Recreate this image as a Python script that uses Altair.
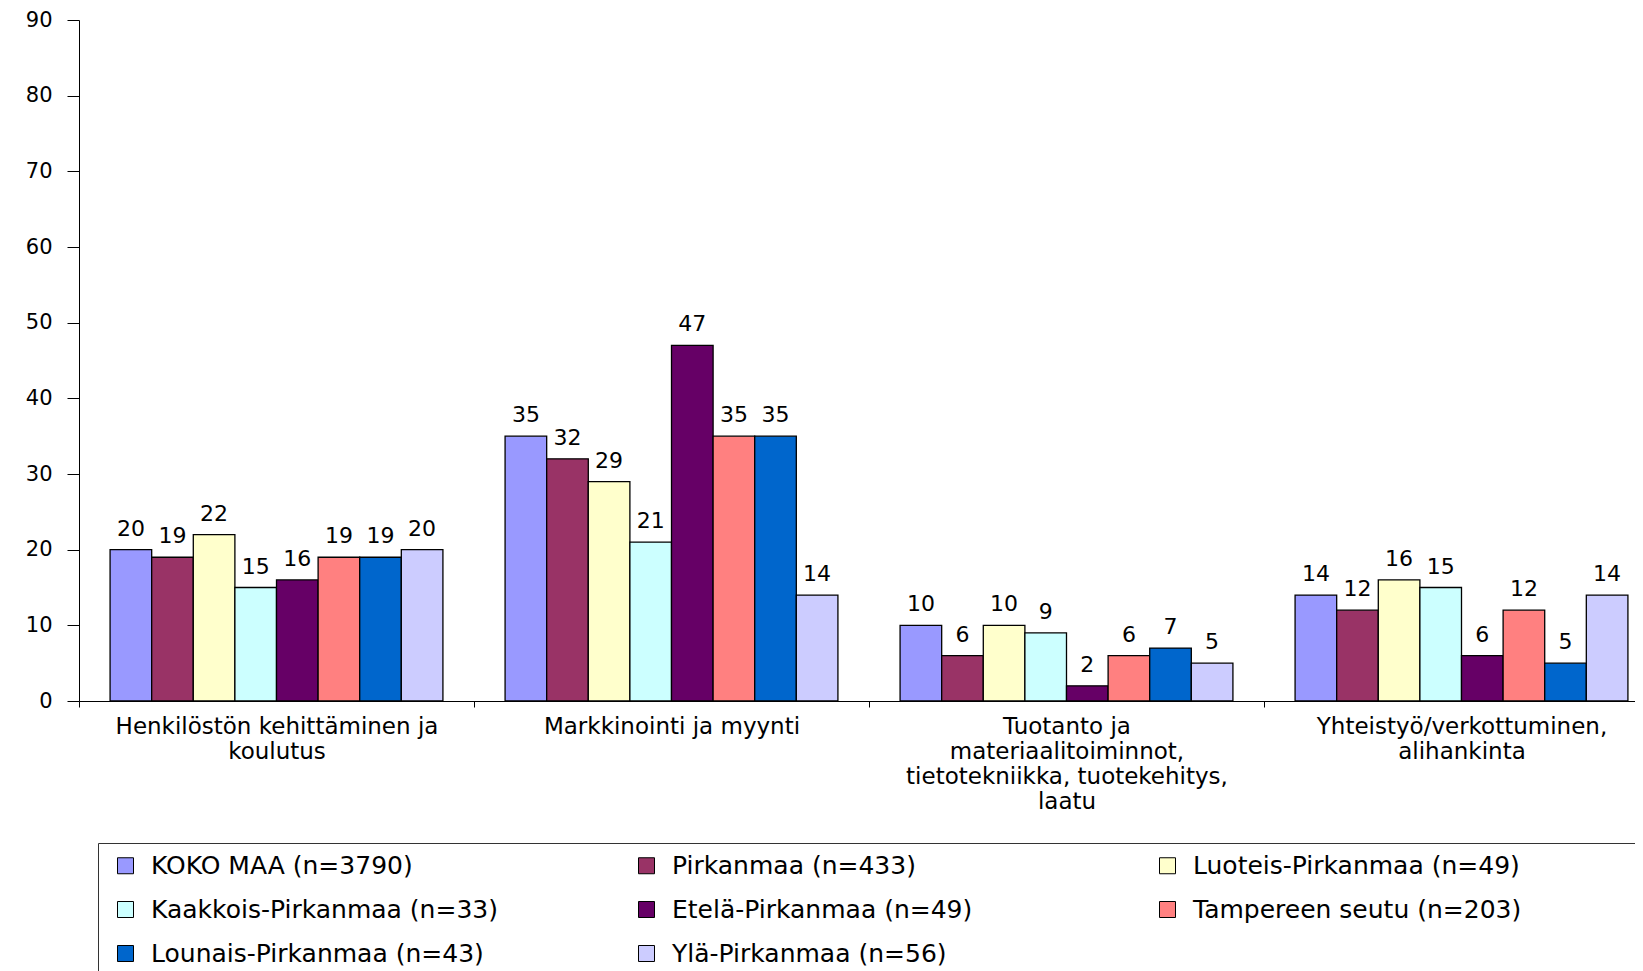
import altair as alt
import pandas as pd

categories = [
    "Henkilöstön kehittäminen ja\nkoulutus",
    "Markkinointi ja myynti",
    "Tuotanto ja\nmateriaalitoiminnot,\ntietotekniikka, tuotekehitys,\nlaatu",
    "Yhteistyö/verkottuminen,\nalihankinta",
]
series = [
    "KOKO MAA (n=3790)",
    "Pirkanmaa (n=433)",
    "Luoteis-Pirkanmaa (n=49)",
    "Kaakkois-Pirkanmaa (n=33)",
    "Etelä-Pirkanmaa (n=49)",
    "Tampereen seutu (n=203)",
    "Lounais-Pirkanmaa (n=43)",
    "Ylä-Pirkanmaa (n=56)",
]
colors = ["#9999FF", "#993366", "#FFFFCC", "#CCFFFF", "#660066", "#FF8080", "#0066CC", "#CCCCFF"]

henkilosto = [20, 19, 22, 15, 16, 19, 19, 20]
markkinointi = [35, 32, 29, 21, 47, 35, 35, 14]
tuotanto = [10, 6, 10, 9, 2, 6, 7, 5]
yhteistyo = [14, 12, 16, 15, 6, 12, 5, 14]
y_ticks = [0, 10, 20, 30, 40, 50, 60, 70, 80, 90]

rows = []
for cat, vals in zip(categories, [henkilosto, markkinointi, tuotanto, yhteistyo]):
    for s, v in zip(series, vals):
        rows.append({"cat": cat, "series": s, "value": v})
df = pd.DataFrame(rows)

FONT = "DejaVu Sans"

base = alt.Chart(df).encode(
    x=alt.X(
        "cat:N",
        sort=categories,
        scale=alt.Scale(range=[0, 1580], paddingInner=0, paddingOuter=0),
        axis=alt.Axis(
            title=None,
            labelAngle=0,
            labelExpr="split(datum.label, '\\n')",
            labelFont=FONT,
            labelFontSize=23,
            labelLineHeight=25,
            labelPadding=8,
            labelLimit=700,
            labelColor="black",
            tickBand="extent",
            tickSize=6,
            tickColor="black",
            domainColor="black",
        ),
    ),
    xOffset=alt.XOffset(
        "series:N",
        sort=series,
        scale=alt.Scale(paddingInner=0, paddingOuter=0.747),
    ),
    y=alt.Y(
        "value:Q",
        scale=alt.Scale(domain=[0, 90], nice=False, zero=True),
        axis=alt.Axis(
            title=None,
            values=y_ticks,
            grid=False,
            tickSize=12,
            labelPadding=15,
            labelFont=FONT,
            labelFontSize=21,
            labelColor="black",
            tickColor="black",
            domainColor="black",
        ),
    ),
)

bars = base.mark_bar(stroke="black", strokeWidth=1.3).encode(
    color=alt.Color(
        "series:N",
        sort=series,
        scale=alt.Scale(domain=series, range=colors),
        legend=alt.Legend(
            title="\u00a0",
            titleOrient="right",
            titlePadding=150,
            titleFontSize=10,
            orient="none",
            legendX=19,
            legendY=823,
            columns=3,
            direction="horizontal",
            gridAlign="all",
            symbolType="square",
            symbolSize=256,
            symbolOffset=5,
            symbolStrokeColor="black",
            symbolStrokeWidth=1,
            labelFont=FONT,
            labelFontSize=25,
            labelColor="black",
            labelLimit=700,
            labelOffset=13,
            strokeColor="#333333",
            fillColor="white",
            padding=10,
            rowPadding=18,
            columnPadding=131,
        ),
    )
)

text = base.mark_text(
    baseline="alphabetic", dy=-14, font=FONT, fontSize=22, color="black"
).encode(text="value:Q")

chart = (
    alt.layer(bars, text)
    .properties(
        width=1556,
        height=681,
        autosize=alt.AutoSizeParams(type="none"),
        padding={"left": 71, "top": 12, "right": 0, "bottom": 275},
    )
    .configure_view(stroke=None)
    .configure_axis(domainWidth=1, tickWidth=1)
)

chart.save("out.html", embed_options={"renderer": "svg", "actions": False})
